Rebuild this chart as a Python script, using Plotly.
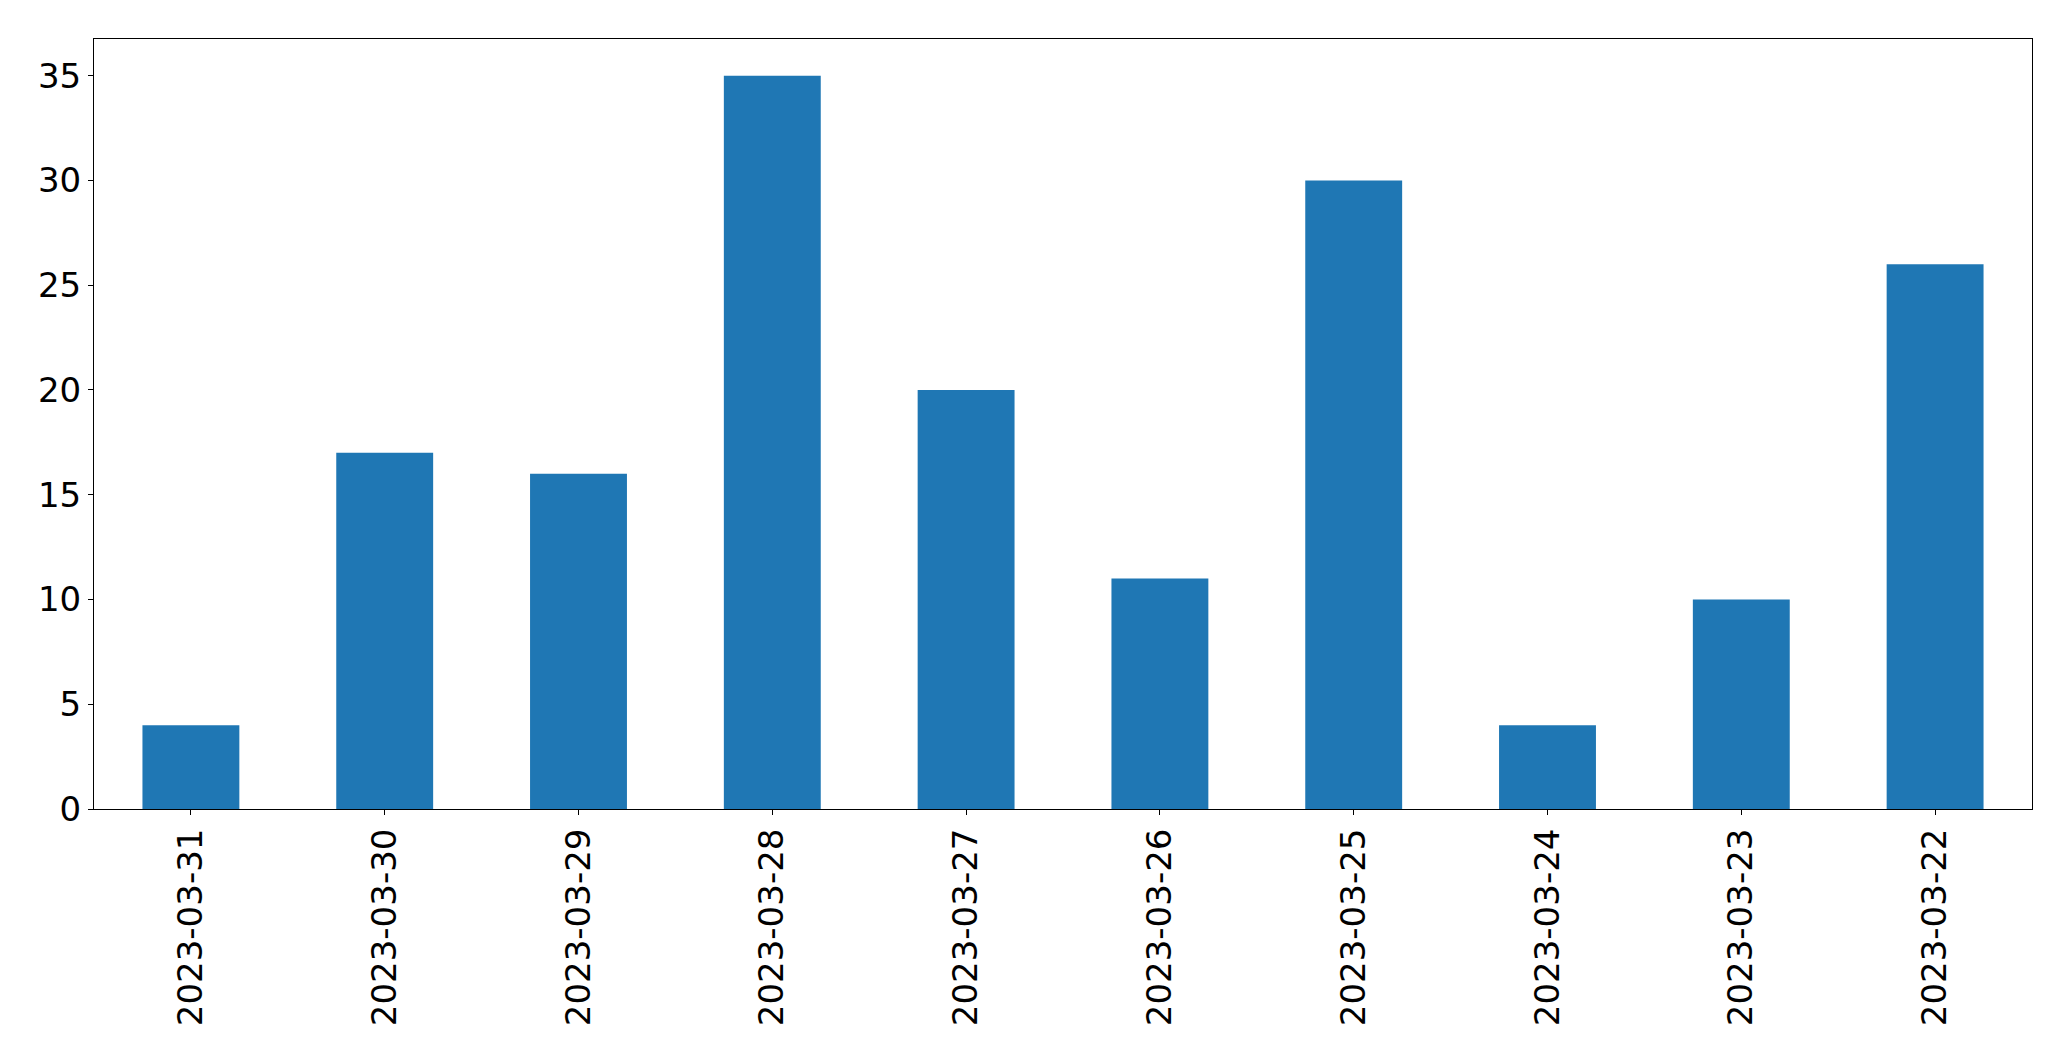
import plotly.graph_objects as go

dates = ["2023-03-31", "2023-03-30", "2023-03-29", "2023-03-28", "2023-03-27",
         "2023-03-26", "2023-03-25", "2023-03-24", "2023-03-23", "2023-03-22"]
counts = [4, 17, 16, 35, 20, 11, 30, 4, 10, 26]
y_ticks = [0, 5, 10, 15, 20, 25, 30, 35]

fig = go.Figure(go.Bar(x=dates, y=counts, width=0.5, marker=dict(color="#1f77b4", line=dict(width=0))))

axis_common = dict(showline=True, linecolor="black", linewidth=1, mirror=True,
                   ticks="outside", ticklen=5, tickcolor="black", tickwidth=1,
                   showgrid=False, zeroline=False,
                   tickfont=dict(family="DejaVu Sans", size=34, color="black"))

fig.update_layout(
    width=2063, height=1053,
    margin=dict(l=86, r=39, t=31, b=252, autoexpand=False),
    plot_bgcolor="white", paper_bgcolor="white",
    showlegend=False,
    xaxis=dict(type="category", range=[-0.5, 9.5], tickangle=-90, **axis_common),
    yaxis=dict(range=[0, 36.75], tickvals=y_ticks, **axis_common),
)

fig.write_html("out.html")
